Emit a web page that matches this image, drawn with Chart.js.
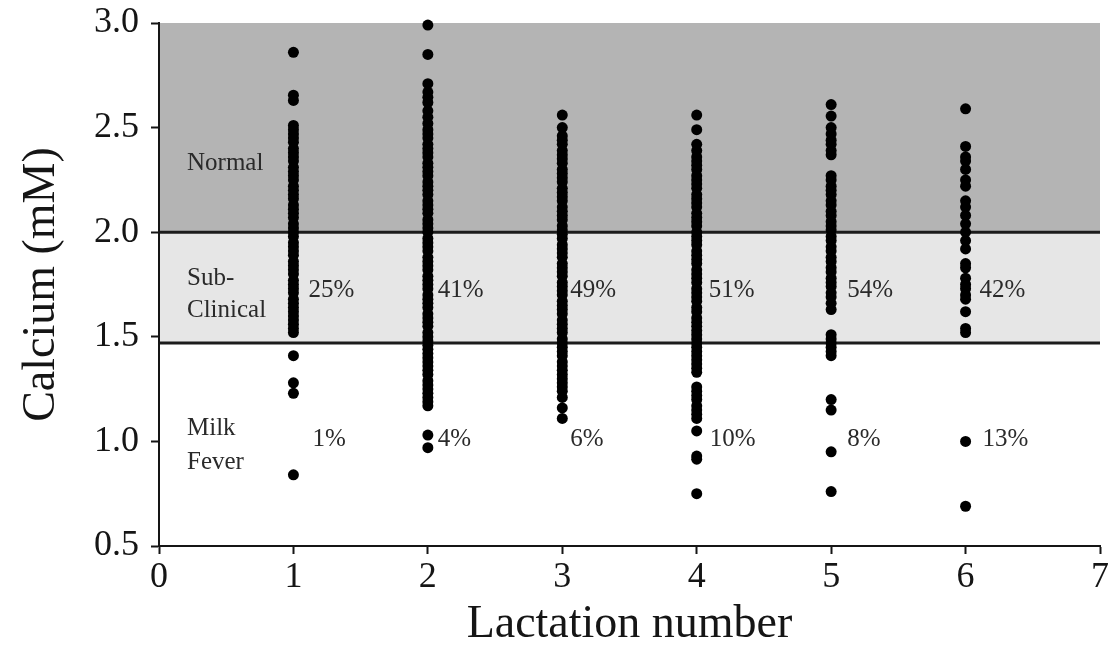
<!DOCTYPE html>
<html>
<head>
<meta charset="utf-8">
<script src="https://cdn.jsdelivr.net/npm/chart.js@4/dist/chart.umd.min.js"></script>
<style>
  html, body { margin: 0; padding: 0; background: #fff; }
  #wrap { width: 1116px; height: 660px; }
</style>
</head>
<body>
<div id="wrap"><canvas id="chart"></canvas></div>
<script>
// ─── Data ───────────────────────────────────────────────────────────────────

const lactations = [1, 2, 3, 4, 5, 6];

const lact1 = [2.86, 2.655, 2.63, 2.51, 2.49, 2.47, 2.45, 2.43, 2.40, 2.38, 2.36, 2.34, 2.31, 2.29, 2.27, 2.25,
  2.22, 2.20, 2.18, 2.16, 2.13, 2.11, 2.09, 2.07, 2.04, 2.02, 2.00, 1.98, 1.95, 1.93, 1.91, 1.89, 1.86, 1.84,
  1.82, 1.80, 1.77, 1.75, 1.73, 1.71, 1.68, 1.66, 1.64, 1.62, 1.60, 1.58, 1.56, 1.54, 1.52, 1.41, 1.28, 1.23, 0.84];

const lact2 = [2.99, 2.85, 2.71, 2.67, 2.645, 2.62, 2.58, 2.55, 2.52, 2.49, 2.47, 2.45, 2.42, 2.40, 2.38, 2.36,
  2.33, 2.31, 2.29, 2.27, 2.24, 2.22, 2.20, 2.18, 2.15, 2.13, 2.11, 2.09, 2.06, 2.04, 2.02, 2.00, 1.97, 1.95,
  1.93, 1.91, 1.88, 1.86, 1.84, 1.82, 1.79, 1.77, 1.75, 1.73, 1.70, 1.68, 1.66, 1.64, 1.61, 1.59, 1.57, 1.55,
  1.52, 1.50, 1.48, 1.46, 1.44, 1.42, 1.40, 1.38, 1.36, 1.34, 1.32, 1.29, 1.27, 1.25, 1.23, 1.21, 1.19, 1.17,
  1.03, 0.97];

const lact3 = [2.56, 2.50, 2.46, 2.44, 2.42, 2.39, 2.37, 2.35, 2.33, 2.30, 2.28, 2.26, 2.24, 2.21, 2.19, 2.17,
  2.15, 2.12, 2.10, 2.08, 2.06, 2.03, 2.01, 1.99, 1.97, 1.94, 1.92, 1.90, 1.88, 1.85, 1.83, 1.81, 1.79, 1.76,
  1.74, 1.72, 1.70, 1.67, 1.65, 1.63, 1.61, 1.58, 1.56, 1.54, 1.52, 1.49, 1.47, 1.45, 1.43, 1.41, 1.38, 1.36,
  1.34, 1.32, 1.30, 1.28, 1.26, 1.24, 1.21, 1.16, 1.11];

const lact4 = [2.56, 2.49, 2.42, 2.39, 2.36, 2.34, 2.32, 2.30, 2.27, 2.25, 2.23, 2.21, 2.18, 2.16, 2.14, 2.12,
  2.09, 2.07, 2.05, 2.03, 2.00, 1.98, 1.96, 1.94, 1.91, 1.89, 1.87, 1.85, 1.82, 1.80, 1.78, 1.76, 1.73, 1.71,
  1.69, 1.67, 1.64, 1.62, 1.59, 1.57, 1.55, 1.53, 1.51, 1.49, 1.47, 1.45, 1.43, 1.41, 1.39, 1.37, 1.35, 1.33,
  1.26, 1.24, 1.22, 1.20, 1.17, 1.15, 1.13, 1.11, 1.05, 0.93, 0.915, 0.75];

const lact5 = [2.61, 2.555, 2.50, 2.47, 2.44, 2.42, 2.39, 2.37, 2.27, 2.25, 2.22, 2.20, 2.18, 2.15, 2.13, 2.10,
  2.08, 2.05, 2.03, 2.01, 1.98, 1.96, 1.93, 1.91, 1.88, 1.86, 1.83, 1.81, 1.78, 1.76, 1.74, 1.71, 1.69, 1.66,
  1.63, 1.51, 1.49, 1.47, 1.45, 1.43, 1.41, 1.20, 1.15, 0.95, 0.76];

const lact6 = [2.59, 2.41, 2.36, 2.34, 2.30, 2.25, 2.22, 2.15, 2.12, 2.08, 2.04, 2.00, 1.96, 1.92, 1.85, 1.83,
  1.78, 1.75, 1.73, 1.70, 1.68, 1.62, 1.54, 1.52, 1.00, 0.69];

const calciumByLactation = [lact1, lact2, lact3, lact4, lact5, lact6];

// zone thresholds (mM)
const normalMin = 2.0;
const milkFeverMax = 1.47;

const subClinicalPct = ['25%', '41%', '49%', '51%', '54%', '42%'];
const milkFeverPct = ['1%', '4%', '6%', '10%', '8%', '13%'];

const zoneLabels = [['Normal'], ['Sub-', 'Clinical'], ['Milk', 'Fever']];

const xTicks = [0, 1, 2, 3, 4, 5, 6, 7];
const yTicks = [0.5, 1.0, 1.5, 2.0, 2.5, 3.0];

// ─── Styling ────────────────────────────────────────────────────────────────

const SERIF = '"Liberation Serif", "DejaVu Serif", serif';
const INK = '#151515';
const TEXT = '#2a2a2a';

// ─── Zone background plugin ─────────────────────────────────────────────────

const zonesPlugin = {
  id: 'calciumZones',
  beforeDraw(chart) {
    const { ctx, chartArea: area, scales: { y } } = chart;
    const yTop = y.getPixelForValue(y.max);
    const yNormal = y.getPixelForValue(normalMin);
    const yFever = y.getPixelForValue(milkFeverMax);

    ctx.save();
    ctx.fillStyle = '#b4b4b4';
    ctx.fillRect(area.left, yTop, area.right - area.left, yNormal - yTop);
    ctx.fillStyle = '#e6e6e6';
    ctx.fillRect(area.left, yNormal, area.right - area.left, yFever - yNormal);

    ctx.strokeStyle = '#1c1c1c';
    ctx.lineWidth = 3;
    [yNormal, yFever].forEach(py => {
      ctx.beginPath();
      ctx.moveTo(area.left, py);
      ctx.lineTo(area.right, py);
      ctx.stroke();
    });
    ctx.restore();
  }
};

// ─── Text annotations plugin ────────────────────────────────────────────────

const SUB_OFFSETS = [15, 10, 8, 12, 16, 14];
const FEVER_OFFSETS = [19, 10, 8, 13, 16, 17];

const labelsPlugin = {
  id: 'calciumLabels',
  afterDatasetsDraw(chart) {
    const { ctx, scales: { x, y } } = chart;
    ctx.save();
    ctx.fillStyle = TEXT;
    ctx.font = `25px ${SERIF}`;
    ctx.textAlign = 'left';
    ctx.textBaseline = 'middle';

    lactations.forEach((lac, i) => {
      const px = x.getPixelForValue(lac);
      ctx.fillText(subClinicalPct[i], px + SUB_OFFSETS[i], y.getPixelForValue(1.72));
      ctx.fillText(milkFeverPct[i], px + FEVER_OFFSETS[i], y.getPixelForValue(1.01));
    });

    // zone names on the left
    const zx = x.getPixelForValue(0) + 28;
    const zoneY = [[2.33], [1.78, 1.625], [1.06, 0.9]];
    zoneLabels.forEach((lines, i) => {
      lines.forEach((txt, j) => ctx.fillText(txt, zx, y.getPixelForValue(zoneY[i][j])));
    });
    ctx.restore();
  }
};

// ─── Chart ──────────────────────────────────────────────────────────────────

const datasets = calciumByLactation.map((vals, i) => ({
  label: `Lactation ${lactations[i]}`,
  data: vals.map(v => ({ x: lactations[i], y: v })),
  backgroundColor: '#000',
  borderColor: '#000',
  borderWidth: 0,
  pointRadius: 5.5,
  pointHoverRadius: 5.5,
  clip: false
}));

new Chart(document.getElementById('chart'), {
  type: 'scatter',
  data: { datasets },
  plugins: [zonesPlugin, labelsPlugin],
  options: {
    responsive: true,
    maintainAspectRatio: false,
    animation: false,
    events: [],
    layout: { padding: { top: 23, right: 16, bottom: 0, left: 0 } },
    plugins: {
      legend: { display: false },
      tooltip: { enabled: false }
    },
    scales: {
      x: {
        type: 'linear',
        min: 0,
        max: 7,
        afterBuildTicks: (axis) => { axis.ticks = xTicks.map(v => ({ value: v })); },
        afterFit: (axis) => { axis.height = 114; },
        ticks: {
          color: INK,
          font: { family: SERIF, size: 36 },
          padding: 2,
          callback: (v) => String(v)
        },
        grid: { drawOnChartArea: false, drawTicks: true, tickLength: 8, tickColor: INK, tickWidth: 2 },
        border: { display: true, color: INK, width: 2 },
        title: {
          display: true,
          text: 'Lactation number',
          color: INK,
          font: { family: SERIF, size: 46 },
          padding: { top: 0, bottom: 7 }
        }
      },
      y: {
        type: 'linear',
        min: 0.5,
        max: 3.0,
        afterBuildTicks: (axis) => { axis.ticks = yTicks.map(v => ({ value: v })); },
        afterFit: (axis) => { axis.width = 159; axis.paddingTop = 0; axis.paddingBottom = 0; },
        ticks: {
          color: INK,
          font: { family: SERIF, size: 36, lineHeight: 0.6 },
          padding: 12,
          callback: (v) => v.toFixed(1)
        },
        grid: { drawOnChartArea: false, drawTicks: true, tickLength: 8, tickColor: INK, tickWidth: 2 },
        border: { display: true, color: INK, width: 2 },
        title: {
          display: true,
          text: 'Calcium (mM)',
          color: INK,
          font: { family: SERIF, size: 46 },
          padding: { top: 14, bottom: 0 }
        }
      }
    }
  }
});
</script>
</body>
</html>
